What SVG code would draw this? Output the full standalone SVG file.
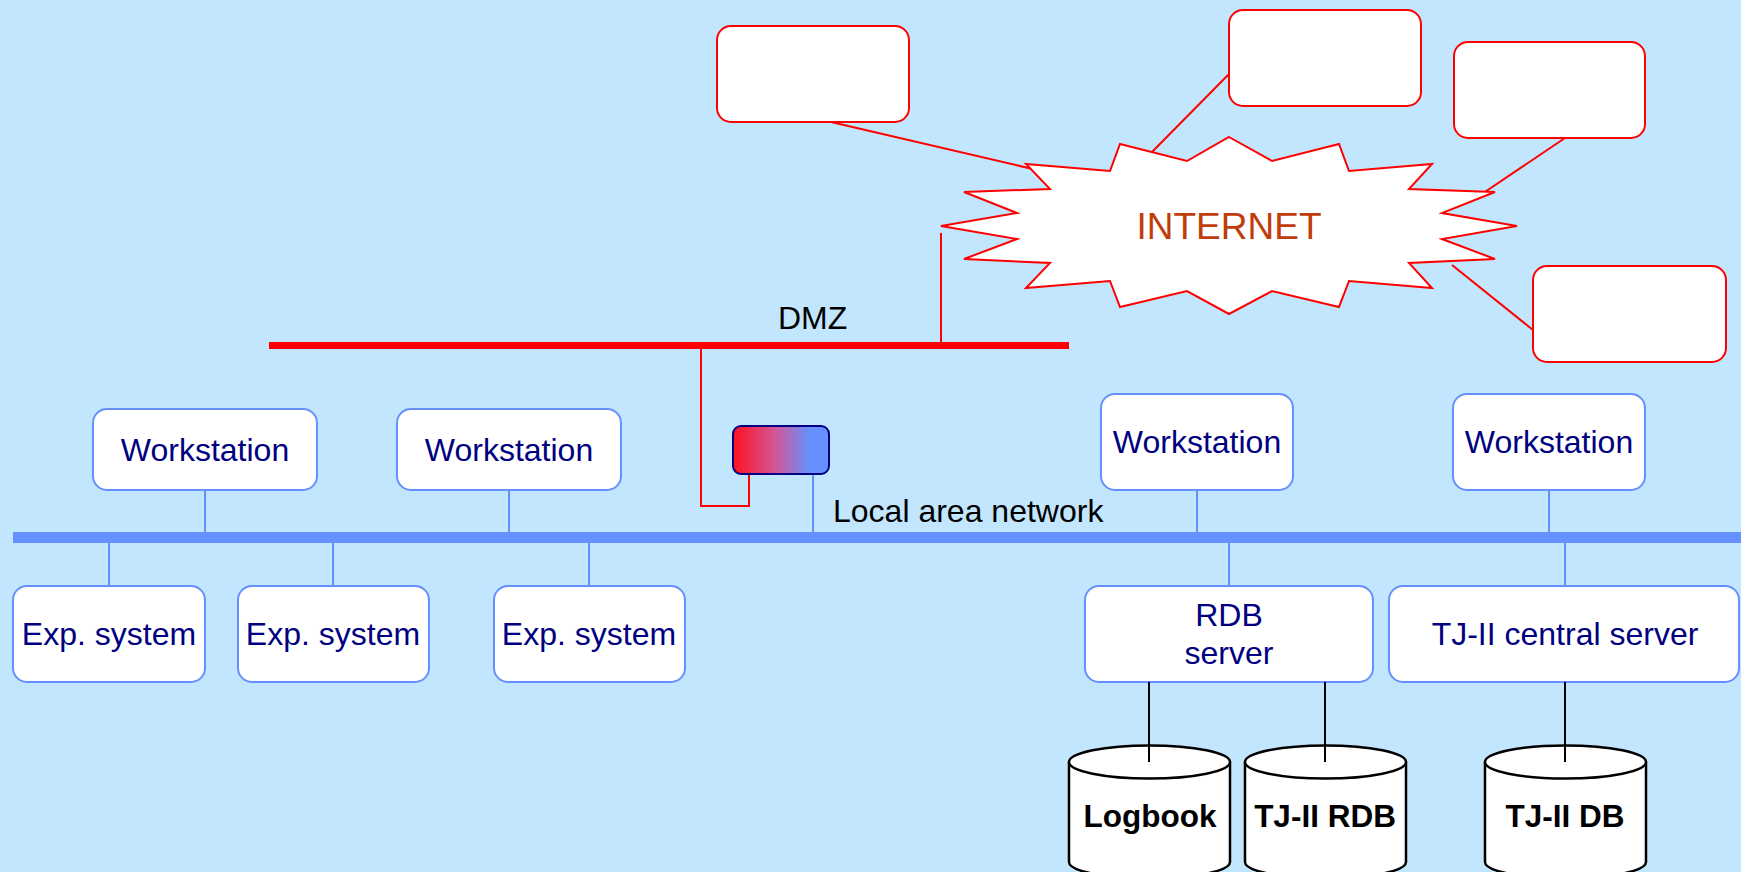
<svg xmlns="http://www.w3.org/2000/svg" width="1741" height="872" viewBox="0 0 1741 872">
<style>
.node{fill:#fff;stroke:#6690ff;stroke-width:2}
.cloudbox{fill:#fff;stroke:#ff0000;stroke-width:2}
.lbl{font-family:"Liberation Sans",Arial,sans-serif;font-size:32px;fill:#000080;text-anchor:middle}
.dbl{font-family:"Liberation Sans",Arial,sans-serif;font-size:31.5px;font-weight:bold;fill:#000;text-anchor:middle}
.plain{font-family:"Liberation Sans",Arial,sans-serif;font-size:32px;fill:#000}
.bl{stroke:#6690ff;stroke-width:2;fill:none}
.rd{stroke:#ff0000;stroke-width:2;fill:none}
.bk{stroke:#000;stroke-width:2;fill:none}
.cyl{fill:#fff;stroke:#000;stroke-width:2.5}
</style>
<defs>
<linearGradient id="rg" x1="0" y1="0" x2="1" y2="0">
<stop offset="0" stop-color="#ff1020"/>
<stop offset="0.45" stop-color="#d0589a"/>
<stop offset="0.8" stop-color="#6690ff"/>
<stop offset="1" stop-color="#6690ff"/>
</linearGradient>
</defs>
<rect x="0" y="0" width="1741" height="872" fill="#c2e6fe"/>

<g id="connectors">
<line class="rd" x1="831" y1="122" x2="1037" y2="170"/>
<line class="rd" x1="1229" y1="74" x2="1150" y2="154"/>
<line class="rd" x1="1565" y1="138" x2="1470" y2="202"/>
<line class="rd" x1="1533" y1="330" x2="1452" y2="265"/>
<line class="rd" x1="941" y1="233" x2="941" y2="345"/>
<polyline class="rd" points="701,345 701,506 749,506 749,474"/>
<line class="bl" x1="813" y1="474" x2="813" y2="534"/>
<line class="bl" x1="205" y1="490" x2="205" y2="534"/>
<line class="bl" x1="509" y1="490" x2="509" y2="534"/>
<line class="bl" x1="1197" y1="490" x2="1197" y2="534"/>
<line class="bl" x1="1549" y1="490" x2="1549" y2="534"/>
<line class="bl" x1="109" y1="540" x2="109" y2="586"/>
<line class="bl" x1="333" y1="540" x2="333" y2="586"/>
<line class="bl" x1="589" y1="540" x2="589" y2="586"/>
<line class="bl" x1="1229" y1="540" x2="1229" y2="586"/>
<line class="bl" x1="1565" y1="540" x2="1565" y2="586"/>
</g>

<g id="dmz">
<rect x="269" y="342" width="800" height="7" fill="#ff0000"/>
<text class="plain" x="778" y="329">DMZ</text>
</g>

<g id="lan">
<rect x="13" y="532" width="1728" height="11" fill="#6690ff"/>
<text class="plain" x="833" y="522">Local area network</text>
</g>

<g id="internet">
<polygon points="1229,137 1272,161 1339,144 1349,171 1432,164 1409,189 1495,192 1442,213 1517,226 1442,239 1495,259 1409,263 1432,288 1349,281 1339,307 1272,291 1229,314 1187,291 1120,307 1110,281 1026,288 1050,263 964,259 1017,239 941,226 1017,213 964,192 1050,189 1026,164 1110,171 1120,144 1187,161" fill="#fff" stroke="#ff0000" stroke-width="2"/>
<text x="1229" y="239" font-family="'Liberation Sans',Arial,sans-serif" font-size="37" fill="#c03c0c" text-anchor="middle">INTERNET</text>
</g>

<g id="ext1"><rect class="cloudbox" x="717" y="26" width="192" height="96" rx="14"/></g>
<g id="ext2"><rect class="cloudbox" x="1229" y="10" width="192" height="96" rx="14"/></g>
<g id="ext3"><rect class="cloudbox" x="1454" y="42" width="191" height="96" rx="14"/></g>
<g id="ext4"><rect class="cloudbox" x="1533" y="266" width="193" height="96" rx="14"/></g>

<g id="router"><rect x="733" y="426" width="96" height="48" rx="8" fill="url(#rg)" stroke="#000080" stroke-width="2"/></g>

<g id="ws1"><rect class="node" x="93" y="409" width="224" height="81" rx="14"/><text class="lbl" x="205" y="461">Workstation</text></g>
<g id="ws2"><rect class="node" x="397" y="409" width="224" height="81" rx="14"/><text class="lbl" x="509" y="461">Workstation</text></g>
<g id="ws3"><rect class="node" x="1101" y="394" width="192" height="96" rx="14"/><text class="lbl" x="1197" y="453">Workstation</text></g>
<g id="ws4"><rect class="node" x="1453" y="394" width="192" height="96" rx="14"/><text class="lbl" x="1549" y="453">Workstation</text></g>

<g id="es1"><rect class="node" x="13" y="586" width="192" height="96" rx="14"/><text class="lbl" x="109" y="645">Exp. system</text></g>
<g id="es2"><rect class="node" x="238" y="586" width="191" height="96" rx="14"/><text class="lbl" x="333" y="645">Exp. system</text></g>
<g id="es3"><rect class="node" x="494" y="586" width="191" height="96" rx="14"/><text class="lbl" x="589" y="645">Exp. system</text></g>

<g id="rdbserver"><rect class="node" x="1085" y="586" width="288" height="96" rx="14"/><text class="lbl" x="1229" y="626">RDB</text><text class="lbl" x="1229" y="664">server</text></g>
<g id="central"><rect class="node" x="1389" y="586" width="350" height="96" rx="14"/><text class="lbl" x="1565" y="645">TJ-II central server</text></g>

<g id="dbconn">
<line class="bk" x1="1149" y1="682" x2="1149" y2="762"/>
<line class="bk" x1="1325" y1="682" x2="1325" y2="762"/>
<line class="bk" x1="1565" y1="682" x2="1565" y2="762"/>
</g>

<g id="logbook">
<path class="cyl" d="M1069,762 A80.5,16.5 0 0 1 1230,762 L1230,862 A80.5,16.5 0 0 1 1069,862 Z"/>
<path class="cyl" d="M1069,762 A80.5,16.5 0 0 0 1230,762" fill="none"/>
<line class="bk" x1="1149" y1="745" x2="1149" y2="762"/>
<text class="dbl" x="1150" y="827">Logbook</text>
</g>
<g id="tjrdb">
<path class="cyl" d="M1245,762 A80.5,16.5 0 0 1 1406,762 L1406,862 A80.5,16.5 0 0 1 1245,862 Z"/>
<path class="cyl" d="M1245,762 A80.5,16.5 0 0 0 1406,762" fill="none"/>
<line class="bk" x1="1325" y1="745" x2="1325" y2="762"/>
<text class="dbl" x="1325" y="827">TJ-II RDB</text>
</g>
<g id="tjdb">
<path class="cyl" d="M1485,762 A80.5,16.5 0 0 1 1646,762 L1646,862 A80.5,16.5 0 0 1 1485,862 Z"/>
<path class="cyl" d="M1485,762 A80.5,16.5 0 0 0 1646,762" fill="none"/>
<line class="bk" x1="1565" y1="745" x2="1565" y2="762"/>
<text class="dbl" x="1565" y="827">TJ-II DB</text>
</g>
</svg>
